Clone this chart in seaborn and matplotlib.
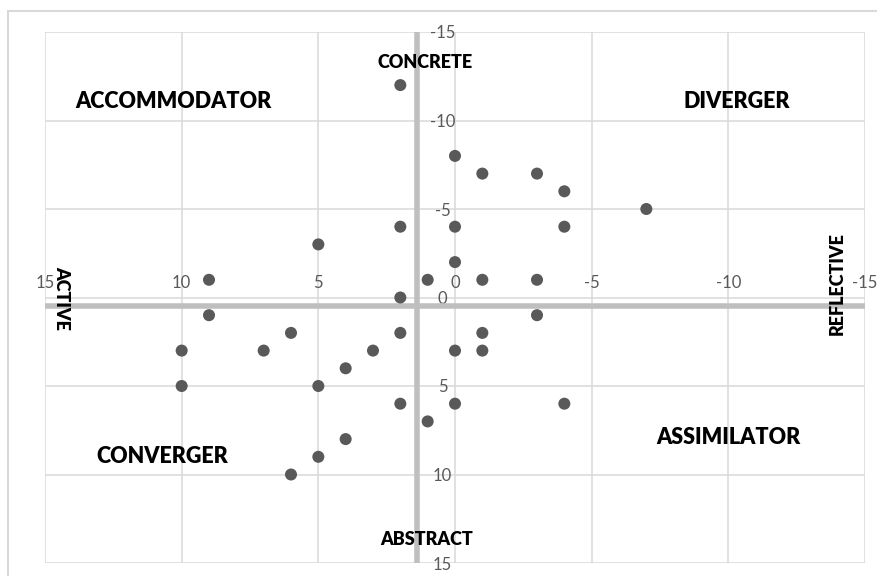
import matplotlib
matplotlib.use("Agg")
import matplotlib.pyplot as plt
import seaborn as sns
import pandas as pd
from matplotlib.patches import Rectangle

# scores: active(+)/reflective(-) on x, concrete(-)/abstract(+) on y
ac_ro = [2, 0, -1, -3, -4, -7, 2, 0, -4, 5, 0, 9, 1, -1, -3, 2, 9, -3,
         6, 2, -1, 10, 7, 3, 0, -1, 4, 10, 5, 2, 0, -4, 1, 4, 5, 6]
ce_ao = [-12, -8, -7, -7, -6, -5, -4, -4, -4, -3, -2, -1, -1, -1, -1, 0, 1, 1,
         2, 2, 2, 3, 3, 3, 3, 3, 4, 5, 5, 6, 6, 6, 7, 8, 9, 10]

ticks = [15, 10, 5, 0, -5, -10, -15]
cross_x = 1.4   # where the thick grey dividers sit
cross_y = 0.5

quadrants = ["ACCOMMODATOR", "DIVERGER", "CONVERGER", "ASSIMILATOR"]
quadrant_pos = [(10.3, -11.1), (-10.3, -11.1), (10.7, 9.0), (-10.0, 7.9)]
dims = ["CONCRETE", "ABSTRACT", "ACTIVE", "REFLECTIVE"]
dim_pos = [(1.1, -13.3), (1.05, 13.7), (14.4, 0.0), (-14.0, -0.8)]
dim_rot = [0, 0, 270, 90]

df = pd.DataFrame({"ac_ro": ac_ro, "ce_ao": ce_ao})

sns.set_theme(style="white")
plt.rcParams["font.family"] = ["Lato", "DejaVu Sans"]
plt.rcParams["axes.unicode_minus"] = False

fig = plt.figure(figsize=(8.78, 5.76), dpi=100)
ax = fig.add_axes([45 / 878, 13 / 576, 820 / 878, 531 / 576])

# outer chart frame (Excel style)
fig.patches.append(Rectangle((8 / 878, -0.1), 1.2, 1.1 - 11 / 576,
                             transform=fig.transFigure, fill=False,
                             edgecolor="#d9d9d9", lw=1.5))
fig.text(0.0, 1.006, "g", fontsize=14, color="#222222", va="baseline")

ax.grid(True, color="#d9d9d9", lw=1.1)
ax.axvline(cross_x, color="#bfbfbf", lw=4, zorder=2)
ax.axhline(cross_y, color="#bfbfbf", lw=4, zorder=2)

sns.scatterplot(data=df, x="ac_ro", y="ce_ao", ax=ax, color="#595959",
                s=75, edgecolor="none", zorder=3)

ax.set_xlim(15, -15)
ax.set_ylim(15, -15)
ax.set_xticks(ticks)
ax.set_yticks(ticks)
ax.set_xlabel("")
ax.set_ylabel("")

for s in ax.spines.values():
    s.set_color("none")
ax.spines["top"].set_position(("data", 0))
ax.spines["left"].set_position(("data", 0))
ax.xaxis.set_ticks_position("top")
ax.yaxis.set_ticks_position("left")
ax.tick_params(axis="x", length=0, pad=5, labelsize=12, labelcolor="#595959")
ax.tick_params(axis="y", length=0, pad=9, labelsize=12, labelcolor="#595959")
for lab in ax.get_yticklabels():
    lab.set_horizontalalignment("center")

for name, (x, y) in zip(quadrants, quadrant_pos):
    ax.text(x, y, name, ha="center", va="center", fontsize=15.5,
            fontweight="heavy", color="black", zorder=4)
for name, (x, y), r in zip(dims, dim_pos, dim_rot):
    ax.text(x, y, name, ha="center", va="center", fontsize=13,
            fontweight="heavy", color="black", rotation=r, zorder=4)

fig.savefig("out.png", dpi=100)
